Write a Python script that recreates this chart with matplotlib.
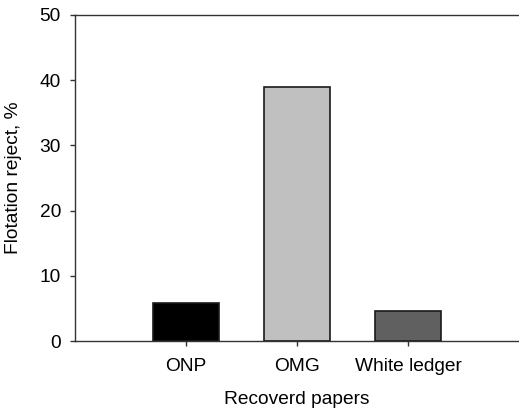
import matplotlib.pyplot as plt

plt.rcParams['font.family'] = ['Liberation Sans', 'DejaVu Sans']

papers = ["ONP", "OMG", "White ledger"]
reject = [5.9, 39.0, 4.6]
bar_colors = ["#000000", "#c0c0c0", "#606060"]

fig = plt.figure(figsize=(5.19, 4.12), dpi=100)
ax = fig.add_axes([0.1445, 0.1723, 0.8555, 0.7913])

x = [1, 2, 3]
ax.bar(x, reject, width=0.6, color=bar_colors, edgecolor="#1a1a1a", linewidth=1.2, zorder=2)

ax.set_xlim(0, 4)
ax.set_ylim(0, 50)
ax.set_xticks(x)
ax.set_xticklabels(papers)
ax.set_yticks([0, 10, 20, 30, 40, 50])

ax.spines['right'].set_visible(False)
for s in ['left', 'top', 'bottom']:
    ax.spines[s].set_linewidth(1.0)
    ax.spines[s].set_color("#333333")

ax.tick_params(axis='both', direction='out', length=3.6, width=1.0, color="#333333",
               labelsize=13.8)
ax.tick_params(axis='x', pad=8.5)
ax.tick_params(axis='y', pad=6.5)
ax.set_xlabel("Recoverd papers", fontsize=13.8, labelpad=12)
ax.set_ylabel("Flotation reject, %", fontsize=13.8, labelpad=12.5)

fig.savefig("out.png", dpi=100)
